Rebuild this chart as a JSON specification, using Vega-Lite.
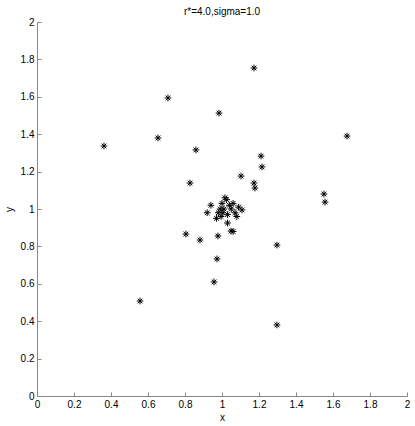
{
  "$schema": "https://vega.github.io/schema/vega-lite/v6.json",
  "width": 370,
  "height": 374,
  "autosize": {"type": "none"},
  "padding": {"left": 37, "top": 22, "right": 8, "bottom": 30},
  "background": "white",
  "title": {"text": "r*=4.0,sigma=1.0", "font": "Liberation Sans", "fontSize": 10, "fontWeight": "normal", "color": "#000", "offset": 0, "anchor": "middle"},
  "config": {"view": {"stroke": null}},
  "data": {"values": [
    {"x": 1.173, "y": 1.754},
    {"x": 0.708, "y": 1.594},
    {"x": 0.984, "y": 1.513},
    {"x": 0.362, "y": 1.337},
    {"x": 0.654, "y": 1.380},
    {"x": 0.859, "y": 1.316},
    {"x": 1.211, "y": 1.283},
    {"x": 1.216, "y": 1.225},
    {"x": 1.676, "y": 1.390},
    {"x": 1.173, "y": 1.139},
    {"x": 1.178, "y": 1.112},
    {"x": 1.551, "y": 1.080},
    {"x": 1.557, "y": 1.037},
    {"x": 1.297, "y": 0.807},
    {"x": 1.297, "y": 0.380},
    {"x": 1.103, "y": 1.176},
    {"x": 0.827, "y": 1.139},
    {"x": 0.940, "y": 1.020},
    {"x": 0.920, "y": 0.980},
    {"x": 1.108, "y": 0.995},
    {"x": 0.805, "y": 0.866},
    {"x": 0.881, "y": 0.834},
    {"x": 0.978, "y": 0.856},
    {"x": 1.049, "y": 0.882},
    {"x": 1.060, "y": 0.880},
    {"x": 0.973, "y": 0.733},
    {"x": 0.957, "y": 0.610},
    {"x": 0.557, "y": 0.508},
    {"x": 1.016, "y": 1.060},
    {"x": 1.025, "y": 1.050},
    {"x": 1.000, "y": 1.030},
    {"x": 1.040, "y": 1.020},
    {"x": 0.980, "y": 0.980},
    {"x": 1.005, "y": 0.980},
    {"x": 1.030, "y": 0.970},
    {"x": 1.070, "y": 0.980},
    {"x": 1.080, "y": 0.960},
    {"x": 0.970, "y": 0.950},
    {"x": 1.030, "y": 0.925},
    {"x": 1.090, "y": 1.010},
    {"x": 1.060, "y": 1.030},
    {"x": 0.990, "y": 1.000},
    {"x": 1.010, "y": 1.000},
    {"x": 0.995, "y": 0.960},
    {"x": 1.050, "y": 1.000}
  ]},
  "mark": {"type": "point", "shape": "M-1,0L1,0M0,-1L0,1M-0.7,-0.7L0.7,0.7M-0.7,0.7L0.7,-0.7", "filled": false, "stroke": "#000", "strokeWidth": 1, "size": 45, "opacity": 1},
  "encoding": {
    "x": {"field": "x", "type": "quantitative", "scale": {"domain": [0, 2], "nice": false, "zero": false},
      "axis": {"values": [0, 0.2, 0.4, 0.6, 0.8, 1, 1.2, 1.4, 1.6, 1.8, 2], "format": "~g", "title": "x", "grid": false, "domainColor": "#888", "tickColor": "#888", "tickSize": -4, "labelPadding": 7, "labelFont": "Liberation Sans", "labelFontSize": 10, "labelColor": "#000", "titleFont": "Liberation Sans", "titleFontSize": 10, "titleFontWeight": "normal", "titleColor": "#000", "titlePadding": 3, "labelFlush": false, "labelOverlap": false}},
    "y": {"field": "y", "type": "quantitative", "scale": {"domain": [0, 2], "nice": false, "zero": false},
      "axis": {"values": [0, 0.2, 0.4, 0.6, 0.8, 1, 1.2, 1.4, 1.6, 1.8, 2], "format": "~g", "title": "y", "grid": false, "domainColor": "#888", "tickColor": "#888", "tickSize": -4, "labelPadding": 7, "labelFont": "Liberation Sans", "labelFontSize": 10, "labelColor": "#000", "titleFont": "Liberation Sans", "titleFontSize": 10, "titleFontWeight": "normal", "titleColor": "#000", "titlePadding": 6, "labelFlush": false, "labelOverlap": false}}
  }
}
